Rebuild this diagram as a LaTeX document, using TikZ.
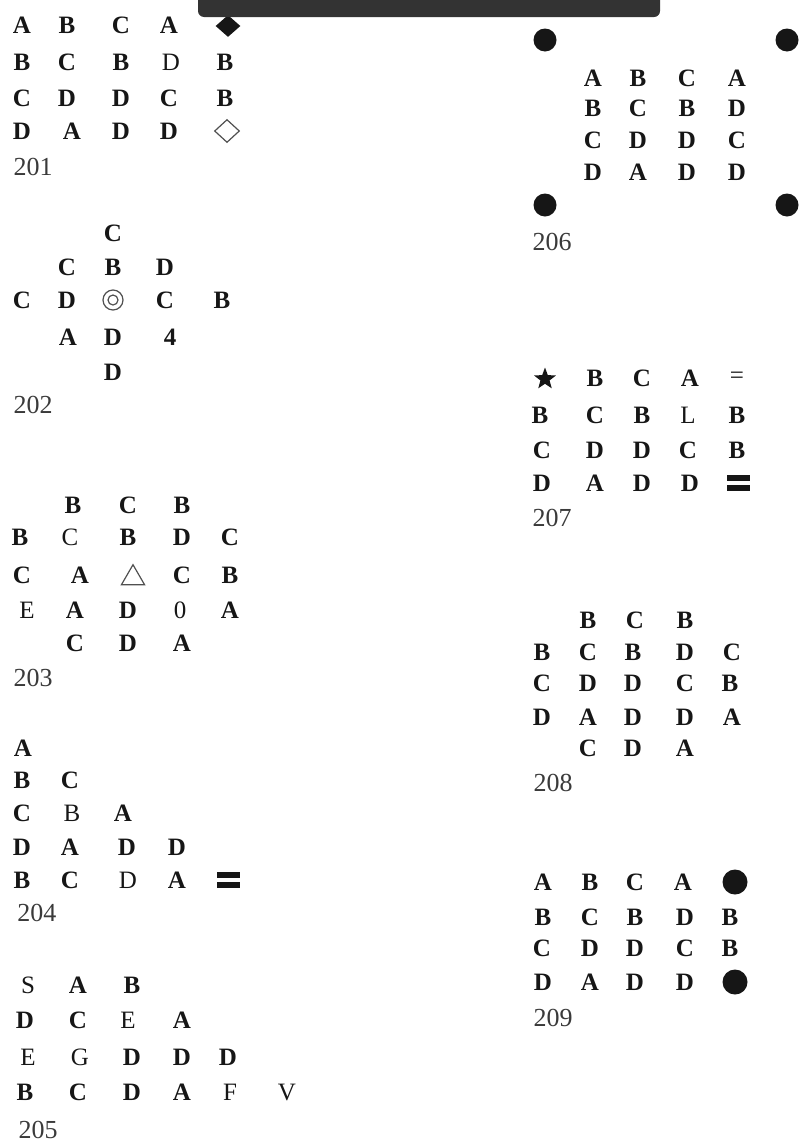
\documentclass[tikz,border=0pt]{standalone}
\usepackage{fontspec}
\setmainfont{Liberation Serif}
\usetikzlibrary{shapes.geometric}
\definecolor{ink}{HTML}{161616}
\definecolor{numgray}{HTML}{3A3A3A}
\definecolor{bargray}{HTML}{333333}
\tikzset{
  letter/.style={inner sep=0pt, text=ink, font=\fontsize{12.5}{14}\selectfont\bfseries},
  tag/.style={inner sep=0pt, text=numgray, font=\fontsize{13}{15}\selectfont},
  dot/.style={circle, fill=ink, inner sep=0pt, minimum size=11.5pt},
  bigdot/.style={dot, minimum size=12.5pt},
  gem/.style={diamond, fill=ink, inner sep=0pt, minimum width=12.5pt, minimum height=11pt},
  hollowgem/.style={diamond, draw=ink!75, line width=0.6pt, inner sep=0pt,
    minimum width=12.5pt, minimum height=11.5pt},
  ring/.style={circle, draw=ink!75, line width=0.6pt, inner sep=0pt, minimum size=10pt},
  innerring/.style={ring, minimum size=5pt},
  tri/.style={regular polygon, regular polygon sides=3, draw=ink!75, line width=0.6pt,
    inner sep=0pt, minimum size=13.3pt},
  starmark/.style={star, star points=5, star point ratio=2.4, fill=ink, inner sep=0pt,
    minimum size=11.5pt},
  pics/heavyeq/.style={code={
    \fill[ink] (-11.5,-8) rectangle (11.5,-2);
    \fill[ink] (-11.5,2) rectangle (11.5,8);
  }}
}
\newcommand{\letterrow}[3]{%
  \foreach \x/\t [count=\c] in {#3} {\node[letter] (#1-\c) at (\x,#2) {\t};}%
}

\begin{document}
\begin{tikzpicture}[x=0.5pt, y=-0.5pt]
  \useasboundingbox (0,0) rectangle (800,1146);

  % 201
  \node[gem] (gem201) at (228,26) {};
  \letterrow{p201a}{25}{22/A,67/B,121/C,169/A}
  \letterrow{p201b}{62}{22/B,67/C,121/B,171/{\mdseries D},225/B}
  \letterrow{p201c}{98}{22/C,67/D,121/D,169/C,225/B}
  \letterrow{p201d}{131}{22/D,72/A,121/D,169/D}
  \node[hollowgem] (open201) at (227,131) {};
  \node[tag] (tag201) at (33,167) {201};

  % top bar
  \fill[bargray, rounded corners=3pt] (198,-10) rectangle (660,17);

  % 202
  \letterrow{p202a}{233}{113/C}
  \letterrow{p202b}{267}{67/C,113/B,165/D}
  \letterrow{p202c}{300}{22/C,67/D,165/C,222/B}
  \node[ring] (ring202) at (113,300) {};
  \node[innerring] (core202) at (113,300) {};
  \letterrow{p202d}{337}{68/A,113/D,170/4}
  \letterrow{p202e}{372}{113/D}
  \node[tag] (tag202) at (33,405) {202};

  % 203
  \letterrow{p203a}{505}{73/B,128/C,182/B}
  \letterrow{p203b}{537}{20/B,70/{\mdseries C},128/B,182/D,230/C}
  \letterrow{p203c}{575}{22/C,80/A,182/C,230/B}
  \node[tri] (tri203) at (133,578) {};
  \letterrow{p203d}{610}{27/{\mdseries E},75/A,128/D,180/{\mdseries 0},230/A}
  \letterrow{p203e}{643}{75/C,128/D,182/A}
  \node[tag] (tag203) at (33,678) {203};

  % 204
  \letterrow{p204a}{748}{23/A}
  \letterrow{p204b}{780}{22/B,70/C}
  \letterrow{p204c}{813}{22/C,72/{\mdseries B},123/A}
  \letterrow{p204d}{847}{22/D,70/A,127/D,177/D}
  \letterrow{p204e}{880}{22/B,70/C,128/{\mdseries D},177/A}
  \pic (eq204) at (228,880) {heavyeq};
  \node[tag] (tag204) at (37,913) {204};

  % 205
  \letterrow{p205a}{985}{28/{\mdseries S},78/A,132/B}
  \letterrow{p205b}{1020}{25/D,78/C,128/{\mdseries E},182/A}
  \letterrow{p205c}{1057}{28/{\mdseries E},80/{\mdseries G},132/D,182/D,228/D}
  \letterrow{p205d}{1092}{25/B,78/C,132/D,182/A,230/{\mdseries F},287/{\mdseries V}}
  \node[tag] (tag205) at (38,1130) {205};

  % 206
  \node[dot] (nw206) at (545,40) {};
  \node[dot] (ne206) at (787,40) {};
  \node[dot] (sw206) at (545,205) {};
  \node[dot] (se206) at (787,205) {};
  \letterrow{p206a}{78}{593/A,638/B,687/C,737/A}
  \letterrow{p206b}{108}{593/B,638/C,687/B,737/D}
  \letterrow{p206c}{140}{593/C,638/D,687/D,737/C}
  \letterrow{p206d}{172}{593/D,638/A,687/D,737/D}
  \node[tag] (tag206) at (552,242) {206};

  % 207
  \node[starmark] (star207) at (545,379) {};
  \letterrow{p207a}{378}{595/B,642/C,690/A,737/{\mdseries =}}
  \letterrow{p207b}{415}{540/B,595/C,642/B,688/{\mdseries L},737/B}
  \letterrow{p207c}{450}{542/C,595/D,642/D,688/C,737/B}
  \letterrow{p207d}{483}{542/D,595/A,642/D,690/D}
  \pic (eq207) at (738,483) {heavyeq};
  \node[tag] (tag207) at (552,518) {207};

  % 208
  \letterrow{p208a}{620}{588/B,635/C,685/B}
  \letterrow{p208b}{652}{542/B,588/C,633/B,685/D,732/C}
  \letterrow{p208c}{683}{542/C,588/D,633/D,685/C,730/B}
  \letterrow{p208d}{717}{542/D,588/A,633/D,685/D,732/A}
  \letterrow{p208e}{748}{588/C,633/D,685/A}
  \node[tag] (tag208) at (553,783) {208};

  % 209
  \letterrow{p209a}{882}{543/A,590/B,635/C,683/A}
  \node[bigdot] (top209) at (735,882) {};
  \letterrow{p209b}{917}{543/B,590/C,635/B,685/D,730/B}
  \letterrow{p209c}{948}{542/C,590/D,635/D,685/C,730/B}
  \letterrow{p209d}{982}{543/D,590/A,635/D,685/D}
  \node[bigdot] (low209) at (735,982) {};
  \node[tag] (tag209) at (553,1018) {209};
\end{tikzpicture}
\end{document}
